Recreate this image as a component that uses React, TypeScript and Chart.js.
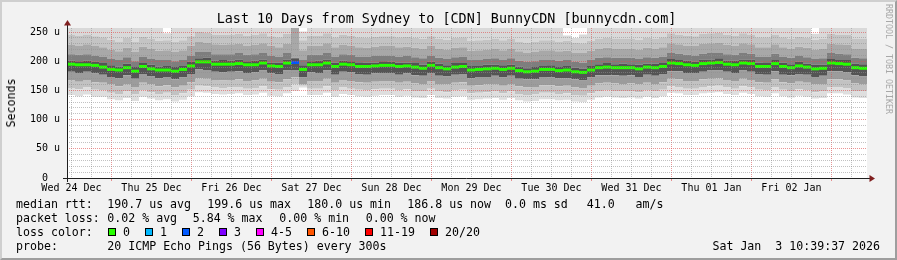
import React, { useEffect, useRef } from "react";
import { Chart, registerables } from "chart.js";

Chart.register(...registerables);

const FONT = '"DejaVu Sans Mono", monospace';

// ---------------- text ----------------
const titleText = "Last 10 Days from Sydney to [CDN] BunnyCDN [bunnycdn.com]";
const yAxisTitle = "Seconds";
const watermarkText = "RRDTOOL / TOBI OETIKER";
const dayLabels = [
  "Wed 24 Dec", "Thu 25 Dec", "Fri 26 Dec", "Sat 27 Dec", "Sun 28 Dec",
  "Mon 29 Dec", "Tue 30 Dec", "Wed 31 Dec", "Thu 01 Jan", "Fri 02 Jan",
];
const yTickValues = [0, 10, 20, 30, 40, 50, 60, 70, 80, 90, 100, 110, 120, 130, 140, 150, 160, 170, 180, 190, 200, 210, 220, 230, 240, 250];
const yLabelValues = [0, 50, 100, 150, 200, 250];
const yLabelTexts = ["0  ", "50 u", "100 u", "150 u", "200 u", "250 u"];
const yMax = 257;

// time: graph starts Wed 24 Dec 10:39:37, spans 10 days, one column = 2.4 h
const graphStartHourOfDay = 10 + 39 / 60 + 37 / 3600;
const graphSpanHours = 240;
const columnHours = 2.4;
const gridStepHours = 6;

// ---------------- data (microseconds) ----------------
const medianRtt = [
  195, 194, 194, 193, 190, 186, 185, 189, 183, 191,
  187, 185, 185, 183, 186, 192, 199, 199, 195, 195,
  195, 196, 194, 194, 197, 192, 191, 197, 198, 186,
  194, 194, 197, 191, 195, 194, 191, 191, 192, 193,
  193, 191, 192, 190, 188, 193, 189, 187, 190, 191,
  185, 186, 187, 188, 186, 188, 184, 182, 183, 186,
  186, 184, 185, 182, 181, 185, 189, 190, 189, 189,
  189, 187, 190, 189, 191, 197, 196, 194, 193, 196,
  197, 198, 195, 194, 197, 196, 191, 191, 196, 191,
  189, 192, 190, 187, 188, 197, 196, 195, 189, 188,
];
// loss bucket per column (index into the loss legend)
const lossBucket = [
  0, 0, 0, 0, 0, 0, 0, 0, 0, 0,
  0, 0, 0, 0, 0, 0, 0, 0, 0, 0,
  0, 0, 0, 0, 0, 0, 0, 0, 2, 0,
  0, 0, 0, 0, 0, 0, 0, 0, 0, 0,
  0, 0, 0, 0, 0, 0, 0, 0, 0, 0,
  0, 0, 0, 0, 0, 0, 0, 0, 0, 0,
  0, 0, 0, 0, 0, 0, 0, 0, 0, 0,
  0, 0, 0, 0, 0, 0, 0, 0, 0, 0,
  0, 0, 0, 0, 0, 0, 0, 0, 0, 0,
  0, 0, 0, 0, 0, 0, 0, 0, 0, 0,
];

// smoke band edges, bottom to top
const smokeBottom = [
  142, 140, 143, 139, 139, 135, 133, 137, 132, 139,
  136, 133, 135, 131, 134, 140, 147, 146, 144, 143,
  144, 145, 142, 143, 146, 141, 140, 145, 149, 155,
  142, 142, 146, 139, 144, 142, 140, 139, 141, 142,
  142, 139, 141, 138, 137, 142, 137, 136, 139, 140,
  134, 135, 136, 137, 134, 137, 133, 131, 132, 135,
  135, 133, 134, 131, 130, 134, 138, 139, 138, 137,
  138, 136, 139, 137, 140, 146, 145, 142, 142, 145,
  146, 147, 144, 142, 146, 144, 140, 139, 145, 140,
  138, 141, 139, 136, 137, 145, 145, 143, 138, 137,
];
const smokeLow3 = [
  154, 152, 155, 151, 150, 146, 144, 148, 143, 150,
  147, 144, 146, 142, 145, 151, 158, 157, 155, 154,
  155, 156, 153, 154, 157, 152, 151, 156, 160, 158,
  153, 153, 157, 150, 155, 153, 151, 150, 152, 153,
  153, 150, 152, 149, 148, 153, 148, 147, 150, 151,
  145, 146, 147, 148, 145, 148, 144, 142, 143, 146,
  146, 144, 145, 142, 141, 145, 149, 150, 149, 148,
  149, 147, 150, 148, 151, 157, 156, 153, 153, 156,
  157, 158, 155, 153, 157, 155, 151, 150, 156, 151,
  149, 152, 150, 147, 148, 156, 156, 154, 149, 148,
];
const smokeLow2 = [
  167, 165, 168, 164, 163, 160, 157, 161, 156, 163,
  160, 157, 159, 155, 158, 164, 171, 170, 168, 167,
  168, 169, 166, 167, 170, 165, 164, 169, 172, 160,
  166, 166, 170, 163, 168, 166, 164, 163, 165, 166,
  166, 163, 165, 162, 161, 166, 161, 160, 163, 164,
  158, 159, 160, 161, 158, 161, 157, 155, 156, 159,
  159, 157, 158, 155, 154, 158, 162, 163, 162, 161,
  162, 160, 163, 161, 164, 170, 169, 166, 166, 169,
  170, 171, 168, 166, 170, 168, 164, 163, 169, 164,
  162, 165, 163, 160, 161, 169, 169, 167, 162, 161,
];
const smokeCoreLow = [
  182, 180, 182, 179, 177, 173, 171, 176, 170, 178,
  174, 171, 173, 169, 172, 178, 186, 185, 182, 181,
  182, 183, 180, 181, 184, 179, 178, 184, 185, 172,
  181, 180, 184, 177, 182, 181, 178, 177, 179, 180,
  180, 177, 179, 176, 175, 180, 175, 174, 177, 178,
  171, 173, 173, 175, 172, 175, 170, 169, 169, 173,
  172, 171, 171, 169, 167, 172, 176, 176, 176, 175,
  176, 173, 177, 175, 178, 183, 183, 180, 180, 182,
  184, 184, 182, 180, 184, 182, 178, 177, 183, 177,
  176, 178, 177, 173, 175, 183, 183, 181, 176, 174,
];
const smokeCoreHigh = [
  201, 200, 201, 199, 197, 193, 191, 196, 190, 197,
  194, 191, 192, 190, 192, 199, 205, 206, 201, 202,
  201, 203, 200, 201, 203, 198, 198, 203, 205, 193,
  200, 201, 203, 198, 201, 200, 197, 198, 198, 200,
  199, 198, 198, 197, 194, 199, 196, 193, 197, 197,
  192, 192, 194, 194, 193, 194, 191, 188, 190, 192,
  193, 190, 192, 189, 187, 192, 195, 197, 195, 196,
  195, 194, 196, 196, 197, 204, 202, 201, 199, 203,
  203, 205, 201, 201, 203, 203, 198, 197, 202, 198,
  195, 199, 196, 194, 194, 204, 202, 202, 196, 195,
];
const smokeHigh1 = [
  212, 211, 212, 210, 208, 204, 202, 207, 200, 208,
  204, 202, 203, 200, 203, 209, 216, 216, 212, 212,
  212, 214, 211, 212, 214, 209, 208, 214, 206, 203,
  211, 211, 214, 208, 212, 211, 208, 208, 209, 210,
  210, 208, 209, 207, 205, 210, 206, 204, 207, 208,
  202, 203, 204, 205, 203, 205, 201, 199, 200, 203,
  203, 201, 202, 199, 198, 202, 206, 207, 206, 206,
  206, 204, 207, 206, 208, 214, 213, 211, 210, 213,
  214, 215, 212, 211, 214, 213, 208, 208, 213, 208,
  206, 209, 207, 204, 205, 214, 213, 212, 206, 205,
];
const smokeHigh2 = [
  228, 227, 229, 226, 224, 220, 217, 223, 216, 225,
  221, 218, 219, 216, 219, 226, 233, 232, 229, 228,
  229, 230, 227, 228, 231, 226, 224, 230, 257, 219,
  227, 227, 231, 224, 228, 227, 224, 223, 225, 226,
  226, 224, 225, 223, 221, 226, 222, 220, 223, 224,
  218, 219, 220, 221, 219, 221, 217, 215, 216, 219,
  219, 217, 218, 215, 214, 218, 222, 223, 222, 222,
  222, 220, 223, 222, 224, 231, 229, 227, 226, 230,
  231, 232, 228, 227, 231, 229, 224, 224, 229, 224,
  222, 225, 223, 220, 221, 230, 229, 228, 222, 221,
];
const smokeHigh3 = [
  245, 244, 246, 243, 241, 237, 234, 240, 233, 242,
  238, 235, 236, 233, 236, 243, 250, 249, 246, 245,
  246, 247, 244, 245, 248, 243, 241, 247, 257, 236,
  244, 244, 248, 241, 245, 244, 241, 240, 242, 243,
  243, 241, 242, 240, 238, 243, 239, 237, 240, 241,
  235, 236, 237, 238, 236, 238, 234, 232, 233, 236,
  236, 234, 235, 232, 231, 235, 239, 240, 239, 239,
  239, 237, 240, 239, 241, 248, 246, 244, 243, 247,
  248, 249, 245, 244, 248, 246, 241, 241, 246, 241,
  239, 242, 240, 237, 238, 247, 246, 245, 239, 238,
];
const smokeTop = [
  257, 257, 257, 257, 257, 257, 257, 257, 257, 257,
  257, 257, 248, 257, 257, 257, 257, 257, 257, 257,
  257, 257, 257, 257, 257, 257, 257, 257, 257, 251,
  257, 257, 257, 257, 257, 257, 257, 257, 257, 257,
  257, 257, 257, 257, 257, 257, 257, 257, 257, 257,
  257, 257, 257, 257, 257, 257, 257, 257, 257, 257,
  257, 257, 244, 240, 246, 257, 257, 257, 257, 257,
  257, 257, 257, 257, 257, 257, 257, 257, 257, 257,
  257, 257, 257, 257, 257, 257, 257, 257, 257, 257,
  257, 257, 257, 247, 257, 257, 257, 257, 257, 257,
];
const smokeBandColors = ["#dedede", "#c2c2c2", "#9c9c9c", "#545454", "#7e7e7e", "#a8a8a8", "#c4c4c4", "#d9d9d9"];

// legend
const lossLegendLabels = ["0", "1", "2", "3", "4-5", "6-10", "11-19", "20/20"];
const lossLegendColors = ["#26ff00", "#00b8ff", "#0059ff", "#7e00ff", "#ff00ff", "#ff5500", "#ff0000", "#a10000"];
const rttRowLabel = "median rtt:";
const rttRowItems = ["190.7 us avg", "199.6 us max", "180.0 us min", "186.8 us now", "0.0 ms sd", "41.0   am/s"];
const lossRowLabel = "packet loss:";
const lossRowItems = ["0.02 % avg", "5.84 % max", "0.00 % min", "0.00 % now"];
const colorRowLabel = "loss color:";
const probeRowLabel = "probe:";
const probeText = "20 ICMP Echo Pings (56 Bytes) every 300s";
const dateText = "Sat Jan  3 10:39:37 2026";

// ---------------- layout / style ----------------
const W = 897;
const H = 260;
const BG = "#f2f2f2";
const GRID = "rgba(143,143,143,0.55)";
const MGRID = "rgba(222,79,79,0.6)";
const AXIS = "#1f1f1f";
const ARROW = "#801f1f";
const rttRowX = [107.3, 207.3, 307.3, 407.3, 505, 586.7];
const lossRowX = [107.3, 192.7, 279.3, 365.7];
const boxX = [108, 145, 182, 219, 256, 307, 365, 430];
const rowY = [204.3, 218.3, 232, 246];

function stepPoints(arr: number[]) {
  const pts = arr.map((v, i) => ({ x: i * columnHours, y: v }));
  pts.push({ x: arr.length * columnHours, y: arr[arr.length - 1] });
  return pts;
}

// vertical grid lines: every 6 h on the clock, starting at 12:00 of the first day
const xGridClock: number[] = [];
for (let c = 12; c - graphStartHourOfDay <= graphSpanHours; c += gridStepHours) xGridClock.push(c);
const xGridValues = xGridClock.map((c) => c - graphStartHourOfDay);
const xGridColors = xGridClock.map((c) => (c % 24 === 0 ? MGRID : GRID));
const xTickColors = xGridClock.map((c) => (c % 24 === 0 ? MGRID : "rgba(0,0,0,0)"));
const xTickTexts = xGridClock.map((c) => (c % 24 === 12 ? dayLabels[(c - 12) / 24] ?? "" : ""));
const yGridColors = yTickValues.map((v) => (yLabelValues.indexOf(v) >= 0 ? MGRID : GRID));

export default function App() {
  const canvasRef = useRef<HTMLCanvasElement | null>(null);

  useEffect(() => {
    const canvas = canvasRef.current;
    if (!canvas) return;

    const edges = [smokeBottom, smokeLow3, smokeLow2, smokeCoreLow, smokeCoreHigh, smokeHigh1, smokeHigh2, smokeHigh3, smokeTop];
    const smokeSets = edges.map((arr, k) => ({
      type: "line" as const,
      data: stepPoints(arr),
      stepped: "before" as const,
      borderWidth: 0,
      borderColor: "rgba(0,0,0,0)",
      pointRadius: 0,
      fill: k === 0 ? false : "-1",
      backgroundColor: k === 0 ? "rgba(0,0,0,0)" : smokeBandColors[k - 1],
      order: 2,
    }));

    const medianSet = {
      type: "line" as const,
      data: medianRtt.map((v, i) => ({ x: (i + 0.5) * columnHours, y: v })),
      showLine: false,
      pointStyle: "line" as const,
      pointRadius: 4,
      pointHoverRadius: 4,
      pointBorderWidth: 3,
      pointBorderColor: lossBucket.map((b) => lossLegendColors[b]),
      pointBackgroundColor: lossBucket.map((b) => lossLegendColors[b]),
      fill: false,
      order: 0,
    };

    const decor = {
      id: "rrdDecor",
      beforeDraw(chart: any) {
        const { ctx, chartArea } = chart;
        ctx.save();
        ctx.fillStyle = "#ffffff";
        ctx.fillRect(chartArea.left, chartArea.top, chartArea.right - chartArea.left, chartArea.bottom - chartArea.top);
        ctx.restore();
      },
      afterDraw(chart: any) {
        const { ctx, chartArea } = chart;
        const { left, right, top, bottom } = chartArea;
        ctx.save();
        ctx.strokeStyle = AXIS;
        ctx.lineWidth = 1;
        ctx.setLineDash([]);
        ctx.beginPath();
        ctx.moveTo(left - 4, bottom + 0.5);
        ctx.lineTo(right + 3, bottom + 0.5);
        ctx.stroke();
        ctx.beginPath();
        ctx.moveTo(left + 0.5, bottom + 4);
        ctx.lineTo(left + 0.5, top - 3);
        ctx.stroke();
        ctx.fillStyle = ARROW;
        ctx.beginPath();
        ctx.moveTo(left + 0.5, top - 8);
        ctx.lineTo(left - 3, top - 2.5);
        ctx.lineTo(left + 4, top - 2.5);
        ctx.closePath();
        ctx.fill();
        ctx.beginPath();
        ctx.moveTo(right + 8, bottom + 0.5);
        ctx.lineTo(right + 2.5, bottom - 3);
        ctx.lineTo(right + 2.5, bottom + 4);
        ctx.closePath();
        ctx.fill();
        ctx.restore();
      },
    };

    const chart = new Chart(canvas, {
      type: "line",
      data: { datasets: [medianSet as any, ...(smokeSets as any[])] },
      options: {
        animation: false,
        responsive: false,
        devicePixelRatio: 1,
        events: [],
        layout: { padding: { left: 0, right: 30, top: 28, bottom: 62 } },
        plugins: { legend: { display: false }, tooltip: { enabled: false }, title: { display: false } },
        scales: {
          x: {
            type: "linear",
            min: 0,
            max: graphSpanHours,
            afterFit: (s: any) => { s.height = 20; },
            afterBuildTicks: (s: any) => { s.ticks = xGridValues.map((v) => ({ value: v })); },
            grid: {
              z: 1,
              lineWidth: 1,
              color: xGridColors,
              drawTicks: true,
              tickLength: 3,
              tickColor: xTickColors,
            },
            border: { display: false, dash: [1, 1] },
            ticks: {
              autoSkip: false,
              maxRotation: 0,
              minRotation: 0,
              padding: 1,
              color: "#000",
              font: { family: FONT, size: 10 },
              callback: (_v: any, index: number) => xTickTexts[index] ?? "",
            },
          },
          y: {
            type: "linear",
            min: 0,
            max: yMax,
            afterFit: (s: any) => { s.width = 67; },
            afterBuildTicks: (s: any) => { s.ticks = yTickValues.map((v) => ({ value: v })); },
            grid: {
              z: 1,
              lineWidth: 1,
              drawTicks: false,
              color: yGridColors,
            },
            border: { display: false, dash: [1, 1] },
            ticks: {
              autoSkip: false,
              padding: 7,
              color: "#000",
              font: { family: FONT, size: 10 },
              callback: (v: any) => {
                const k = yLabelValues.indexOf(Number(v));
                return k >= 0 ? yLabelTexts[k] : "";
              },
            },
          },
        },
      },
      plugins: [decor],
    });
    return () => chart.destroy();
  }, []);

  const txt = (x: number, y: number, s: string, key?: string | number) => (
    <div
      key={key}
      style={{ position: "absolute", left: x, top: y - 7, lineHeight: "14px", fontSize: 11.6, fontFamily: FONT, color: "#000", whiteSpace: "pre" }}
    >
      {s}
    </div>
  );

  return (
    <div style={{ position: "absolute", left: 0, top: 0, width: W, height: H, background: BG, overflow: "hidden" }}>
      <canvas ref={canvasRef} width={W} height={H} style={{ position: "absolute", left: 0, top: 0, width: W, height: H }} />
      <div style={{ position: "absolute", left: 0, top: 11, width: 893, textAlign: "center", fontFamily: FONT, fontSize: 13.4, lineHeight: "16px", color: "#000", whiteSpace: "pre" }}>
        {titleText}
      </div>
      <div style={{ position: "absolute", left: 10.8, top: 102.5, transform: "translate(-50%, -50%) rotate(-90deg)", fontFamily: FONT, fontSize: 11.6, lineHeight: "14px", color: "#000", whiteSpace: "pre" }}>
        {yAxisTitle}
      </div>
      <div style={{ position: "absolute", left: 884, top: 4, writingMode: "vertical-rl", fontFamily: FONT, fontSize: 8.3, lineHeight: "10px", color: "#a8a8a8", whiteSpace: "pre" }}>
        {watermarkText}
      </div>
      {txt(16, rowY[0], rttRowLabel)}
      {rttRowItems.map((s, i) => txt(rttRowX[i], rowY[0], s, "r" + i))}
      {txt(16, rowY[1], lossRowLabel)}
      {lossRowItems.map((s, i) => txt(lossRowX[i], rowY[1], s, "l" + i))}
      {txt(16, rowY[2], colorRowLabel)}
      {lossLegendLabels.map((s, i) => (
        <React.Fragment key={"c" + i}>
          <div style={{ position: "absolute", left: boxX[i], top: rowY[2] - 4, width: 6, height: 6, border: "1px solid #000", background: lossLegendColors[i] }} />
          {txt(boxX[i] + 15, rowY[2], s)}
        </React.Fragment>
      ))}
      {txt(16, rowY[3], probeRowLabel)}
      {txt(107.3, rowY[3], probeText)}
      <div style={{ position: "absolute", right: W - 880, top: rowY[3] - 7, lineHeight: "14px", fontSize: 11.6, fontFamily: FONT, color: "#000", whiteSpace: "pre" }}>
        {dateText}
      </div>
      <div style={{ position: "absolute", left: 0, top: 0, width: W, height: H, boxSizing: "border-box", borderTop: "2px solid #cfcfcf", borderLeft: "2px solid #cfcfcf", borderRight: "2px solid #9e9e9e", borderBottom: "2px solid #9e9e9e", pointerEvents: "none" }} />
    </div>
  );
}
